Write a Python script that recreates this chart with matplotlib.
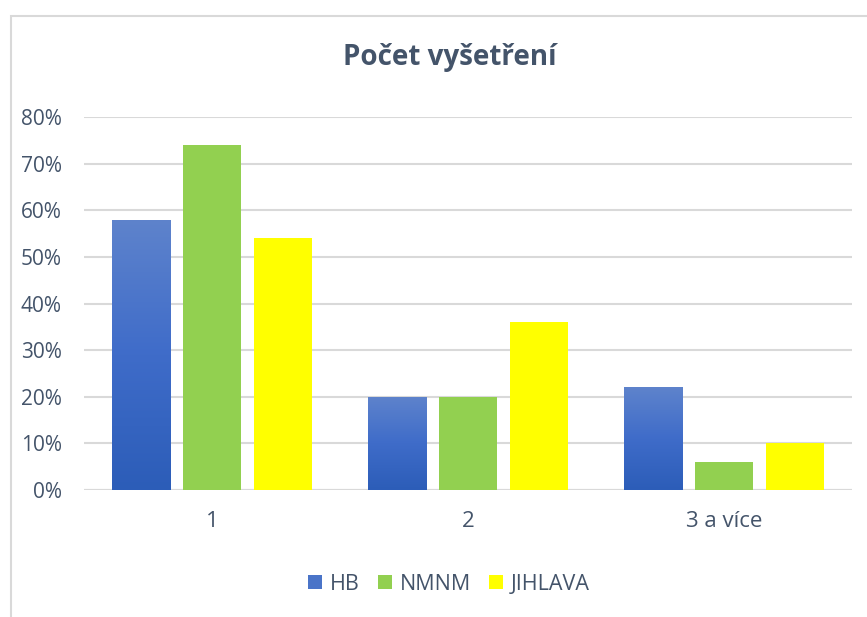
import matplotlib
matplotlib.use("Agg")
import matplotlib.pyplot as plt
import numpy as np
from matplotlib.patches import Rectangle, Patch
from matplotlib.colors import LinearSegmentedColormap

categories = ["1", "2", "3 a více"]
series_names = ["HB", "NMNM", "JIHLAVA"]
hb = [0.58, 0.20, 0.22]
nmnm = [0.74, 0.20, 0.06]
jihlava = [0.54, 0.36, 0.10]
yticks = [0, 0.1, 0.2, 0.3, 0.4, 0.5, 0.6, 0.7, 0.8]
ytick_labels = ["0%", "10%", "20%", "30%", "40%", "50%", "60%", "70%", "80%"]

text_color = "#44546A"
grid_color = "#D9D9D9"
colors = ["#3E6CC6", "#92D050", "#FFFF00"]

plt.rcParams['font.family'] = ['Open Sans', 'DejaVu Sans']

fig = plt.figure(figsize=(8.67, 6.17), dpi=100)
ax = fig.add_axes([84/867, 1-490/617, (852-84)/867, (490-117)/617])

# chart border
fig.patches.append(Rectangle((11/867, -0.1), 1.2, 1-16/617+0.1, transform=fig.transFigure,
                             fill=False, edgecolor="#D9D9D9", linewidth=1.5))

x = np.arange(len(categories))
w = 0.227
step = 0.277
data = [hb, nmnm, jihlava]
containers = []
for i, (vals, c, name) in enumerate(zip(data, colors, series_names)):
    bc = ax.bar(x + (i-1)*step, vals, width=w, color=c, label=name, zorder=3)
    containers.append(bc)

# gradient for HB
cmap = LinearSegmentedColormap.from_list("hbgrad", ["#2C5DB8", "#3F6CC9", "#5E83CC"])
grad = np.linspace(0, 1, 256).reshape(-1, 1)
for p in containers[0].patches:
    x0, y0 = p.get_x(), p.get_y()
    x1, y1 = x0 + p.get_width(), y0 + p.get_height()
    im = ax.imshow(grad, extent=[x0, x1, y0, y1], origin="lower", cmap=cmap,
                   aspect="auto", zorder=4)
    im.set_clip_path(p)

ax.set_xlim(-0.5, 2.5)
ax.set_ylim(0, 0.8)
ax.set_yticks(yticks)
ax.set_yticklabels(ytick_labels)
ax.set_xticks(x)
ax.set_xticklabels(categories)
ax.tick_params(axis="both", length=0, colors=text_color)
ax.tick_params(axis="x", pad=15, labelsize=16)
ax.tick_params(axis="y", pad=16, labelsize=15)
ax.yaxis.grid(True, color=grid_color, linewidth=1.5, zorder=0)
ax.set_axisbelow(True)
for s in ax.spines.values():
    s.set_visible(False)
ax.axhline(0, color=grid_color, linewidth=1.5, zorder=2)

fig.text(450/867, 1-58/617, "Počet vyšetření", ha="center", va="center",
         fontsize=20, fontweight="bold", color=text_color)

handles = [Patch(facecolor="#4A74C8"), Patch(facecolor=colors[1]), Patch(facecolor=colors[2])]
leg = fig.legend(handles, series_names, loc="center", bbox_to_anchor=(449/867, 1-584/617),
                 ncol=3, frameon=False, fontsize=15.5, handlelength=0.65, handleheight=0.65,
                 handletextpad=0.35, columnspacing=0.85)
for t in leg.get_texts():
    t.set_color(text_color)

fig.savefig("out.png", dpi=100)
